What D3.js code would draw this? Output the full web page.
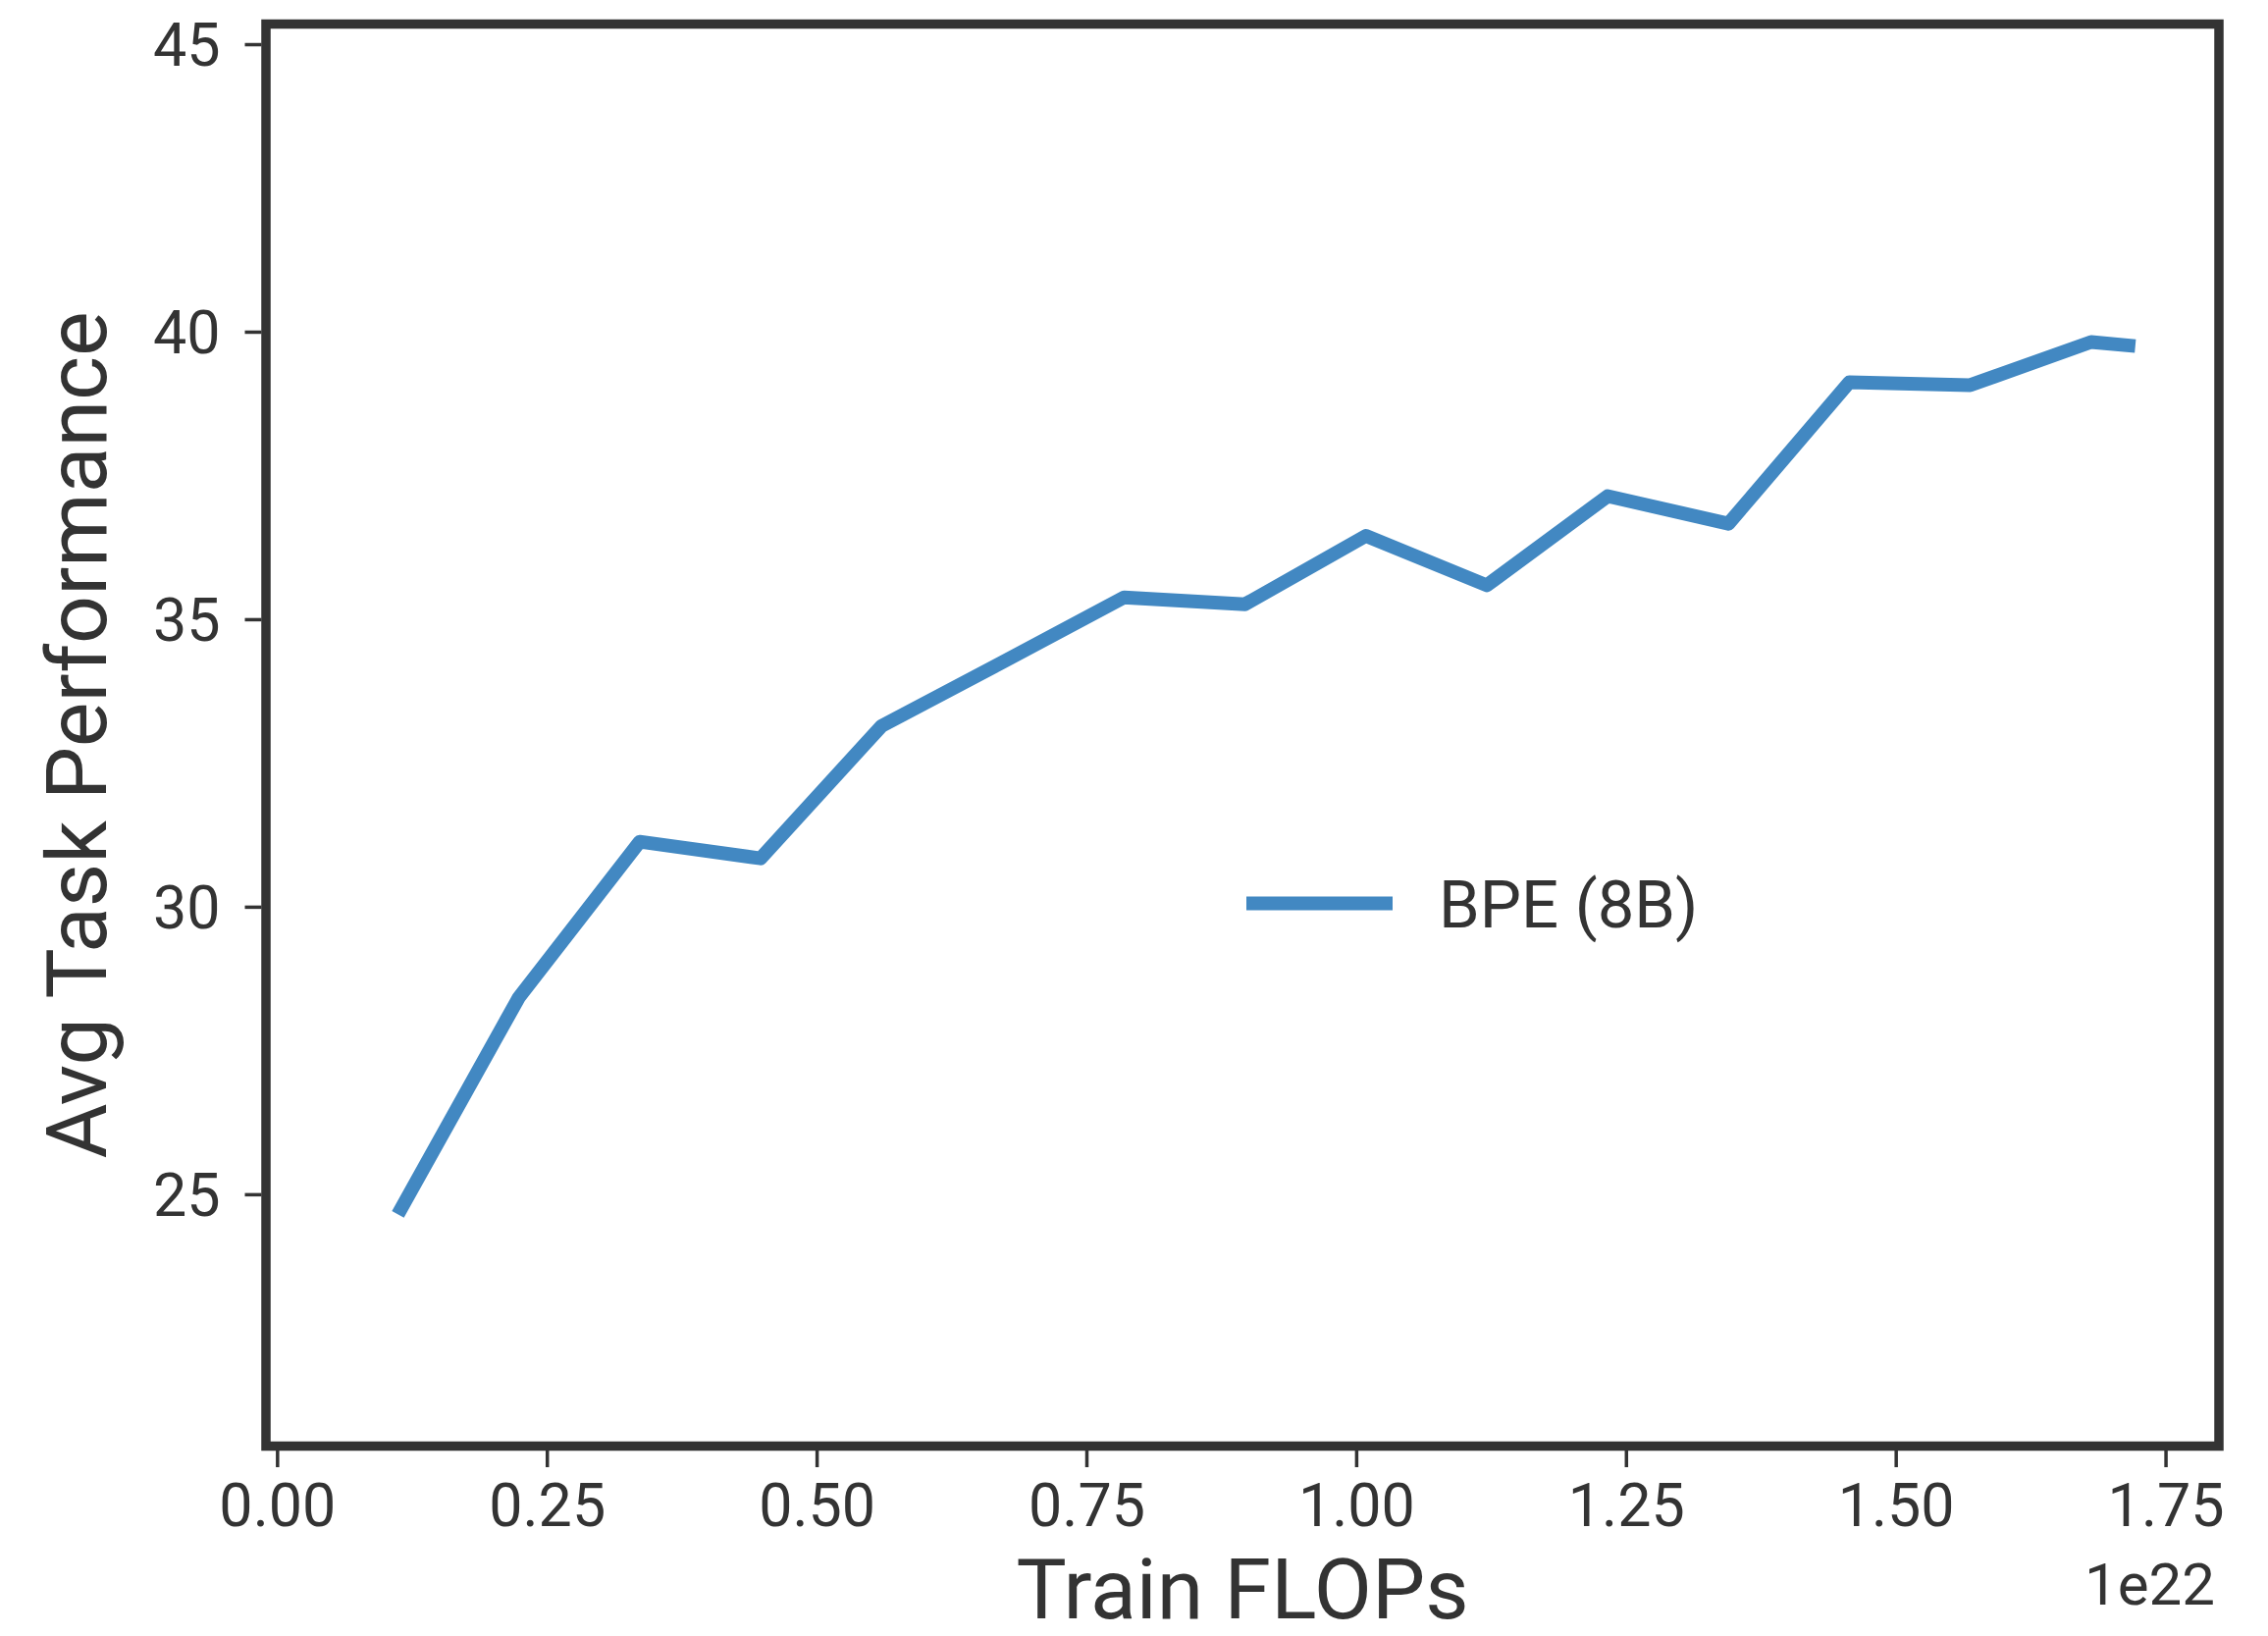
<!DOCTYPE html>
<html>
<head>
<meta charset="utf-8">
<title>Avg Task Performance vs Train FLOPs</title>
<script src="https://d3js.org/d3.v7.min.js"></script>
<style>
  body { margin: 0; background: #fff; }
  text { font-family: Roboto, "Noto Sans", sans-serif; fill: #333; }
</style>
</head>
<body>
<div id="chart"></div>
<script>
// train flops, in units of 1e22
var flops = [0.112, 0.224, 0.336, 0.448, 0.560, 0.672, 0.785, 0.897, 1.009, 1.121, 1.233, 1.345, 1.457, 1.569, 1.681, 1.722];
var bpe8b = [24.65, 28.42, 31.13, 30.84, 33.14, 34.25, 35.38, 35.26, 36.45, 35.59, 37.14, 36.66, 39.12, 39.07, 39.82, 39.75];
var xTicks = [0, 0.25, 0.5, 0.75, 1.0, 1.25, 1.5, 1.75];
var yTicks = [25, 30, 35, 40, 45];
var seriesName = "BPE (8B)";

var W = 2311, H = 1667;
// plot frame (spine centres); "top" is reserved on window, so use pTop etc
var pLeft = 271, pRight = 2261, pTop = 24.5, pBottom = 1473.5;
var ink = "#333333", blue = "#4288c2";

var svg = d3.select("#chart").append("svg")
    .attr("width", W).attr("height", H);

var x = d3.scaleLinear().domain([-0.0103, 1.7995]).range([pLeft, pRight]);
var y = d3.scaleLinear().domain([20.62, 45.35]).range([pBottom, pTop]);

// axes
var xAxis = svg.append("g")
    .attr("transform", "translate(0," + (pBottom + 4.5) + ")")
    .call(d3.axisBottom(x).tickValues(xTicks).tickSize(17).tickPadding(16)
      .tickFormat(d3.format(".2f")));
var yAxis = svg.append("g")
    .attr("transform", "translate(" + (pLeft - 4.5) + ",0)")
    .call(d3.axisLeft(y).tickValues(yTicks).tickSize(17).tickPadding(25)
      .tickFormat(d3.format("d")));
[xAxis, yAxis].forEach(function(a) {
  a.select(".domain").remove();
  a.selectAll(".tick line").attr("stroke", ink).attr("stroke-width", 3.5);
  a.selectAll(".tick text").attr("font-size", 61).attr("fill", ink)
    .style("font-family", "Roboto, sans-serif");
});
yAxis.selectAll(".tick text").attr("dy", "0.36em");
xAxis.selectAll(".tick text").attr("dy", "0.72em");

// data line
var line = d3.line()
    .x(function(d, i) { return x(flops[i]); })
    .y(function(d) { return y(d); });
svg.append("path")
    .datum(bpe8b)
    .attr("d", line)
    .attr("fill", "none")
    .attr("stroke", blue)
    .attr("stroke-width", 14)
    .attr("stroke-linejoin", "round");

// frame
svg.append("rect")
    .attr("x", pLeft).attr("y", pTop)
    .attr("width", pRight - pLeft).attr("height", pBottom - pTop)
    .attr("fill", "none").attr("stroke", ink).attr("stroke-width", 9.5);

// labels
svg.append("text")
    .attr("x", (pLeft + pRight) / 2).attr("y", 1649)
    .attr("text-anchor", "middle").attr("font-size", 86)
    .text("Train FLOPs");
svg.append("text")
    .attr("transform", "translate(108," + (pTop + pBottom) / 2 + ") rotate(-90)")
    .attr("text-anchor", "middle").attr("font-size", 86)
    .text("Avg Task Performance");
svg.append("text")
    .attr("x", pRight - 4).attr("y", 1635)
    .attr("text-anchor", "end").attr("font-size", 60)
    .text("1e22");

// legend
var lg = svg.append("g").attr("transform", "translate(1270,920.5)");
lg.append("line").attr("x1", 0).attr("x2", 149).attr("y1", 0).attr("y2", 0)
    .attr("stroke", blue).attr("stroke-width", 14);
lg.append("text").attr("x", 196).attr("y", 24).attr("font-size", 67)
    .text(seriesName);
</script>
</body>
</html>
